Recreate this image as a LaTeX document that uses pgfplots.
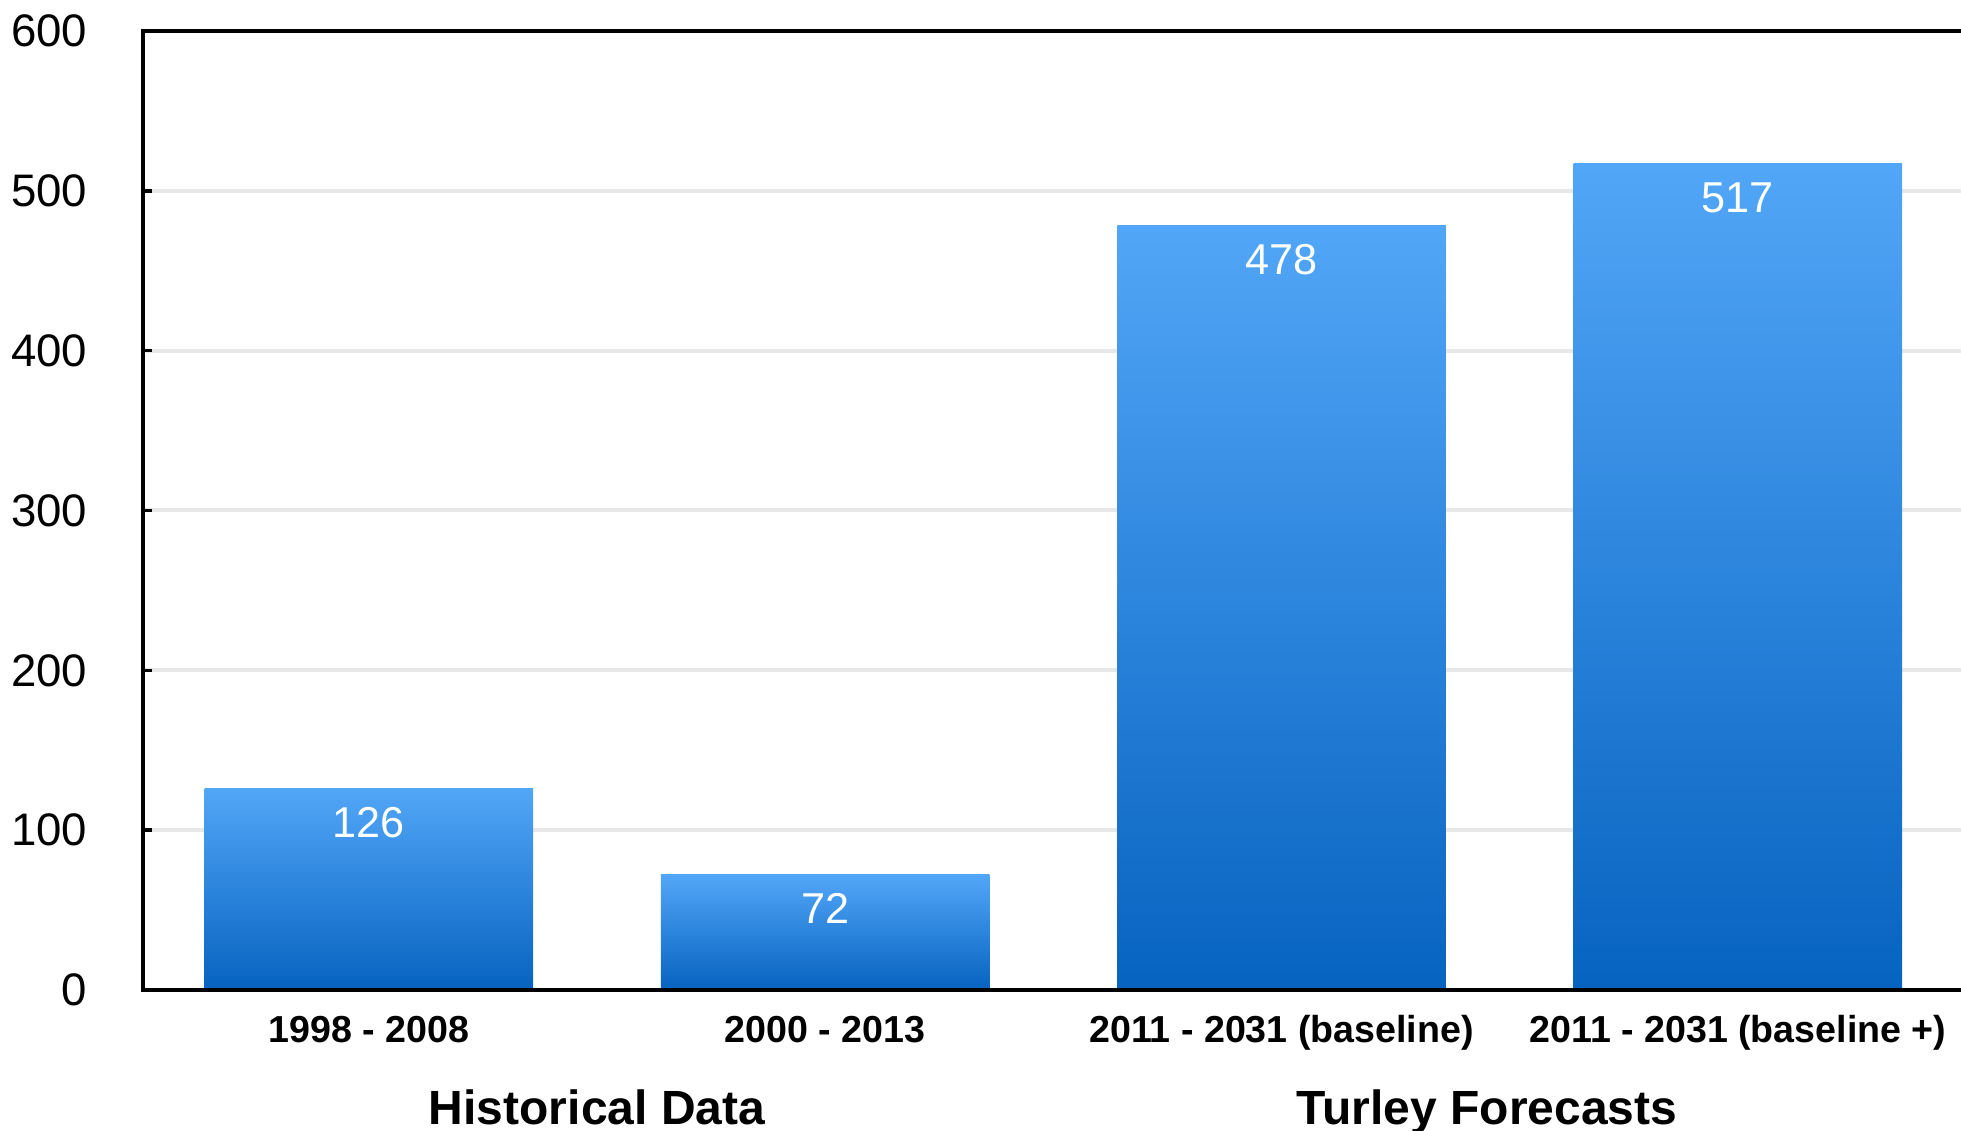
\documentclass[border=0pt]{standalone}
\usepackage{pgfplots}
\pgfplotsset{compat=1.18}
\usepackage{fontspec}
\setmainfont{Liberation Sans}

\definecolor{barTop}{RGB}{82,166,247}
\definecolor{barBot}{RGB}{6,99,192}
\definecolor{gridGray}{RGB}{232,232,232}

\begin{document}
\begin{tikzpicture}
\useasboundingbox (-35.75pt,-35.25pt) rectangle (454.5pt,247.5pt);
\begin{axis}[
  at={(0,0)}, anchor=south west,
  scale only axis, width=454.5pt, height=239.75pt,
  xmin=-0.495, xmax=3.489, ymin=0, ymax=600,
  axis line style={draw=none},
  ybar, bar width=0.72, bar shift=0pt,
  ytick={0,100,...,600},
  ytick pos=left,
  xtick={0,1,2,3},
  xticklabels={1998 - 2008, 2000 - 2013, 2011 - 2031 (baseline), 2011 - 2031 (baseline +)},
  ymajorgrids, major grid style={gridGray, line width=1pt},
  tick align=inside, major tick length=2.25pt,
  ytick style={black, line width=0.9pt},
  xtick style={draw=none},
  /pgf/number format/assume math mode=true,
  yticklabel style={font=\fontsize{11.4}{13}\selectfont, anchor=east, inner sep=0pt, xshift=-13.75pt},
  xticklabel style={font=\bfseries\fontsize{9.4}{11}\selectfont, anchor=base, inner sep=0pt, yshift=-13.25pt},
  clip=false,
  nodes near coords,
  every node near coord/.append style={font=\fontsize{10.8}{12}\selectfont, text=white, anchor=north, inner sep=0pt, yshift=-4.5pt},
  barstyle/.style={draw=none, top color=barTop, bottom color=barBot},
]
% one plot per bar so that each bar carries its own top-to-bottom gradient
\addplot[barstyle] coordinates {(0,126)};
\addplot[barstyle] coordinates {(1,72)};
\addplot[barstyle] coordinates {(2,478)};
\addplot[barstyle] coordinates {(3,517)};

% frame: left, bottom and top edges only
\draw[black, line width=0.9pt] (rel axis cs:1,1) -- (rel axis cs:0,1) -- (rel axis cs:0,0) -- (rel axis cs:1,0);

% group captions under the category labels
\node[font=\bfseries\fontsize{12}{14}\selectfont, anchor=base] at ([yshift=-33.75pt]axis cs:0.5,0) {Historical Data};
\node[font=\bfseries\fontsize{12}{14}\selectfont, anchor=base] at ([yshift=-33.75pt]axis cs:2.45,0) {Turley Forecasts};
\end{axis}
\end{tikzpicture}
\end{document}
